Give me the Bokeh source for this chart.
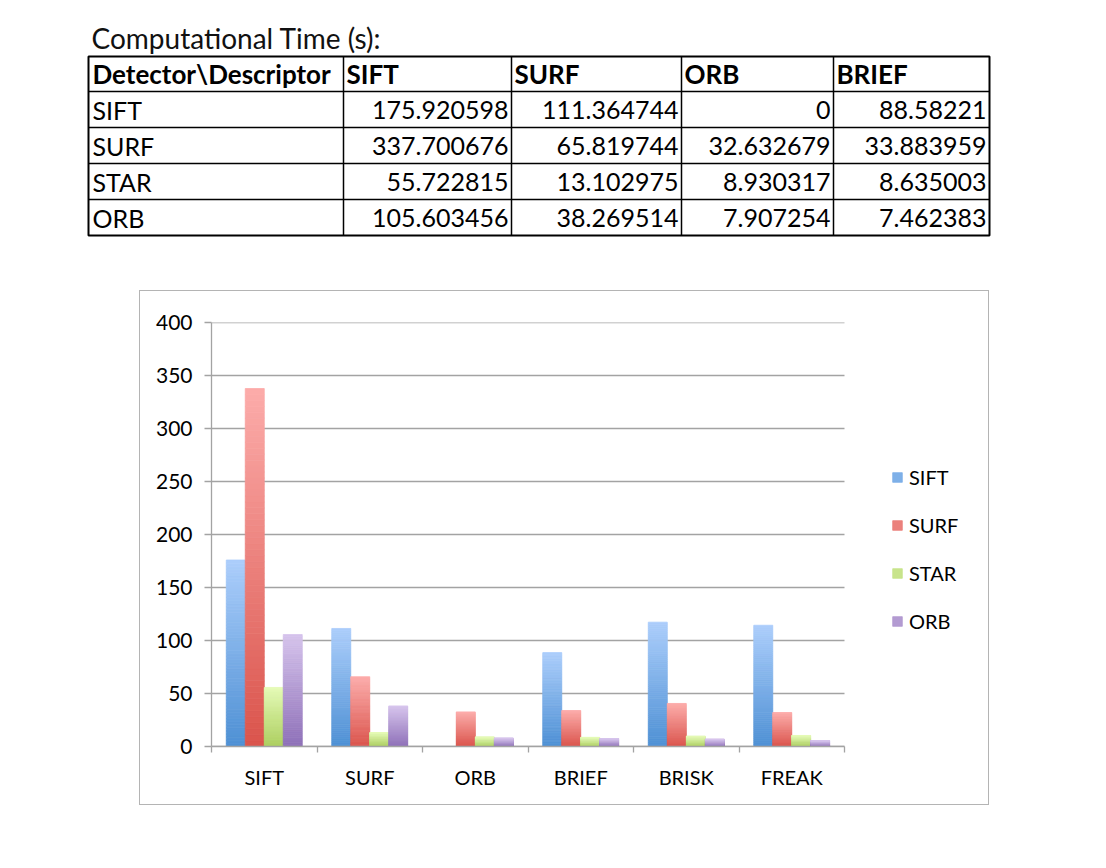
import numpy as np
from bokeh.plotting import figure
from bokeh.models import Range1d, FixedTicker, Legend, LegendItem, ColumnDataSource, Spacer
from bokeh.layouts import column, row
from bokeh.core.properties import value
from bokeh.embed import file_html
from bokeh.resources import INLINE

# ---------------- data ----------------
table_title = "Computational Time (s):"
corner_label = "Detector\\Descriptor"
descriptors = ["SIFT", "SURF", "ORB", "BRIEF", "BRISK", "FREAK"]
table_descriptors = ["SIFT", "SURF", "ORB", "BRIEF"]
detectors = ["SIFT", "SURF", "STAR", "ORB"]
sift_vals = [175.920598, 111.364744, 0.0, 88.58221, 117.3, 114.4]
surf_vals = [337.700676, 65.819744, 32.632679, 33.883959, 40.6, 32.0]
star_vals = [55.722815, 13.102975, 8.930317, 8.635003, 9.7, 10.4]
orb_vals = [105.603456, 38.269514, 7.907254, 7.462383, 6.9, 5.6]
y_ticks = [0, 50, 100, 150, 200, 250, 300, 350, 400]

series = [sift_vals, surf_vals, star_vals, orb_vals]
# (bottom colour, top colour) of each series gradient
grad = [((78, 144, 212), (172, 206, 251)),
        ((218, 84, 76), (252, 172, 170)),
        ((172, 206, 94), (228, 250, 182)),
        ((142, 112, 184), (214, 196, 236))]

FONT = "Lato"
W = 1106

def fmt(v):
    s = f"{v:.6f}".rstrip("0").rstrip(".")
    return s if s else "0"

# ---------------- table figure ----------------
TH = 290
tf = figure(width=W, height=TH, x_range=Range1d(0, W), y_range=Range1d(TH, 0),
            x_axis_type=None, y_axis_type=None, output_backend="svg",
            toolbar_location=None, min_border=0)
tf.grid.visible = False
tf.outline_line_color = None

cx = [88, 343, 511, 681, 833, 989]
ry = [56, 91, 127, 163, 199, 235]

tf.text(x=[91], y=[37], text=[table_title], text_font=value(FONT),
        text_font_size=value("28px"), text_baseline="middle", text_align="left",
        text_color="#111111")

# grid lines
tf.segment(x0=cx[1:-1], y0=[ry[0]] * 4, x1=cx[1:-1], y1=[ry[-1]] * 4,
           line_color="black", line_width=1.5)
tf.segment(x0=[cx[0]] * 4, y0=ry[1:-1], x1=[cx[-1]] * 4, y1=ry[1:-1],
           line_color="black", line_width=1.5)
tf.quad(left=[cx[0]], right=[cx[-1]], top=[ry[0]], bottom=[ry[-1]],
        fill_color=None, line_color="black", line_width=2)

# header
hx = [cx[0] + 4] + [c + 3 for c in cx[1:5]]
hy = [(ry[0] + ry[1]) / 2 - 0.5] * 5
tf.text(x=hx, y=hy, text=[corner_label] + table_descriptors, text_font=value(FONT),
        text_font_size=value("26px"), text_font_style="bold", text_baseline="middle",
        text_align="left", text_color="black")
# rows
lx, ly, lt = [], [], []
vx, vy, vt = [], [], []
for r, det in enumerate(detectors):
    ymid = (ry[r + 1] + ry[r + 2]) / 2
    lx.append(cx[0] + 4); ly.append(ymid); lt.append(det)
    for j in range(4):
        vx.append(cx[j + 2] - 3); vy.append(ymid); vt.append(fmt(series[r][j]))
tf.text(x=lx, y=ly, text=lt, text_font=value(FONT), text_font_size=value("25px"),
        text_baseline="middle", text_align="left", text_color="black")
tf.text(x=vx, y=vy, text=vt, text_font=value(FONT), text_font_size=value("25px"),
        text_baseline="middle", text_align="right", text_color="black")

# ---------------- chart figure ----------------
CW, CH = 850, 515
BL, BR, BT, BB = 71, 10, 31, 60
n_cat = len(descriptors)
frame_w = CW - BL - BR
axis_px = 633  # pixel length of the category axis
x_end = n_cat * frame_w / axis_px

p = figure(width=CW, height=CH, x_range=Range1d(0, x_end),
           y_range=Range1d(0, 400), output_backend="svg", toolbar_location=None,
           min_border_left=BL, min_border_right=BR, min_border_top=BT,
           min_border_bottom=BB)
p.styles = {"border": "1px solid #b4b4b4", "box-sizing": "border-box"}
p.outline_line_color = None
p.xgrid.visible = False
p.ygrid.visible = False

GRAY = "#a3a3a3"
# horizontal gridlines spanning only the category axis
p.segment(x0=[0] * len(y_ticks), x1=[n_cat] * len(y_ticks), y0=y_ticks, y1=y_ticks,
          line_color=GRAY, line_width=1.3)

p.yaxis.ticker = FixedTicker(ticks=y_ticks)
p.yaxis.axis_line_color = GRAY
p.yaxis.axis_line_width = 1.3
p.yaxis.major_tick_line_color = GRAY
p.yaxis.major_tick_line_width = 1.3
p.yaxis.major_tick_in = 0
p.yaxis.major_tick_out = 7
p.yaxis.minor_tick_line_color = None
p.yaxis.major_label_standoff = 12
p.yaxis.major_label_text_font = FONT
p.yaxis.major_label_text_font_size = "21px"
p.yaxis.major_label_text_color = "black"

centers = [i + 0.5 for i in range(n_cat)]
p.xaxis.ticker = FixedTicker(ticks=centers, minor_ticks=list(range(n_cat + 1)))
p.xaxis.bounds = (0, n_cat)
p.xaxis.major_label_overrides = {c: d for c, d in zip(centers, descriptors)}
p.xaxis.axis_line_color = GRAY
p.xaxis.axis_line_width = 1.3
p.xaxis.major_tick_line_color = None
p.xaxis.major_tick_out = 0
p.xaxis.major_tick_in = 0
p.xaxis.minor_tick_line_color = GRAY
p.xaxis.minor_tick_line_width = 1.3
p.xaxis.minor_tick_in = 0
p.xaxis.minor_tick_out = 6
p.xaxis.major_label_standoff = 12
p.xaxis.major_label_text_font = FONT
p.xaxis.major_label_text_font_size = "20px"
p.xaxis.major_label_text_color = "black"

N = 60
offsets = [-0.27, -0.09, 0.09, 0.27]
bar_w = 0.18
items = []
for s, vals in enumerate(series):
    c0, c1 = grad[s]
    xs, bots, tops, cols = [], [], [], []
    for i, v in enumerate(vals):
        for k in range(N):
            t = (k + 0.5) / N
            col = tuple(int(round(c0[q] + (c1[q] - c0[q]) * t)) for q in range(3))
            xs.append(centers[i] + offsets[s])
            bots.append(v * k / N)
            tops.append(v * (k + 1) / N)
            cols.append("#%02x%02x%02x" % col)
    src = ColumnDataSource(dict(x=xs, bottom=bots, top=tops, color=cols))
    r = p.vbar(x="x", bottom="bottom", top="top", width=bar_w, source=src,
               fill_color="color", line_color="color", line_width=0.8)
    items.append(LegendItem(label=detectors[s], renderers=[r], index=N // 2))

legend = Legend(items=items, location=(680, 113), orientation="vertical",
                glyph_width=12, glyph_height=12, label_standoff=6, spacing=24,
                label_height=24, padding=0, margin=0, border_line_color=None,
                background_fill_alpha=0, label_text_font=FONT,
                label_text_font_size="20px", label_text_color="black")
p.add_layout(legend)

layout = column(tf, row(Spacer(width=139, height=CH), p))
open("out.html", "w").write(file_html(layout, INLINE))
